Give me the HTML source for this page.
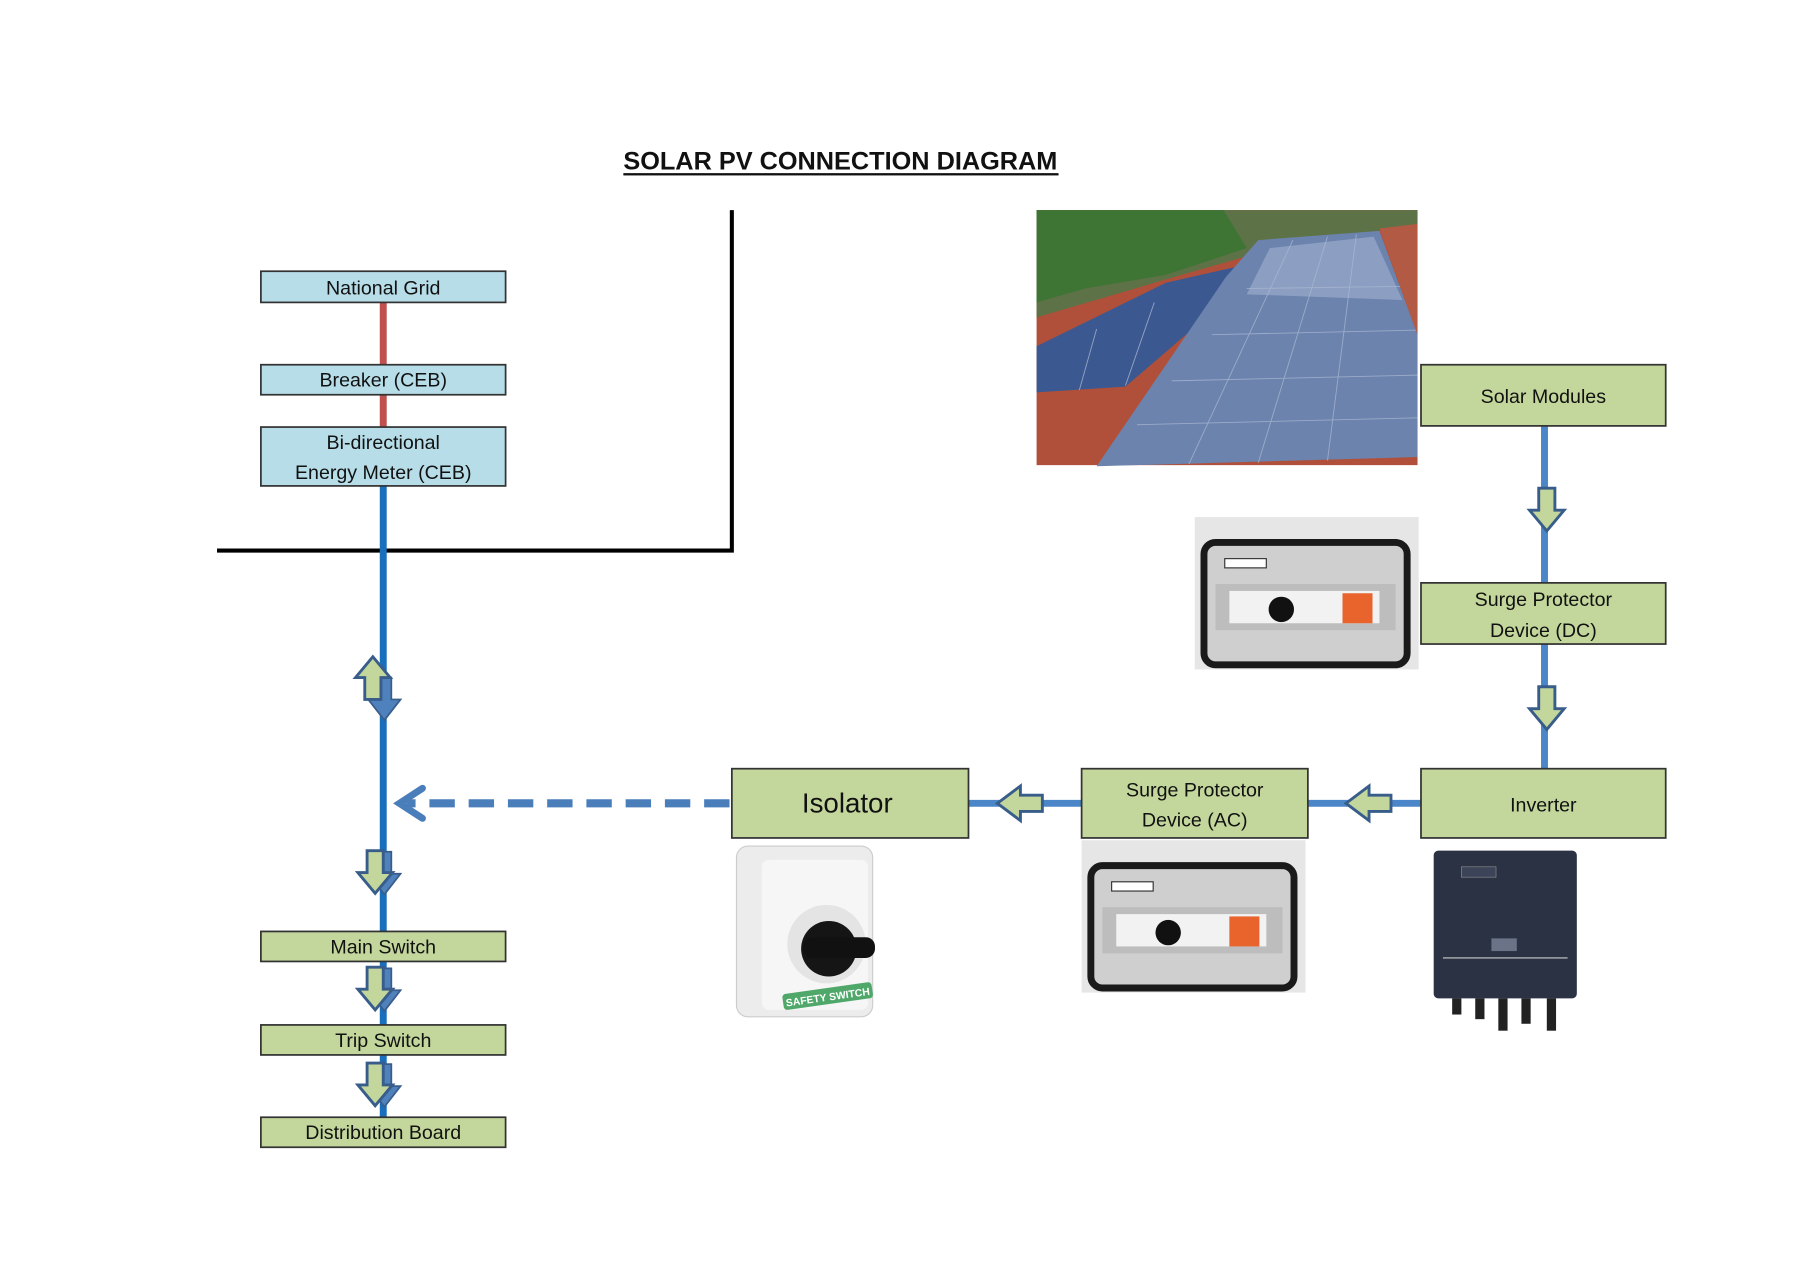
<!DOCTYPE html>
<html><head><meta charset="utf-8"><style>
html,body{margin:0;padding:0;background:#fff;}
svg{display:block;}
text{font-family:"Liberation Sans",sans-serif;fill:#111;}
</style></head><body>
<svg width="1810" height="1280" viewBox="0 0 1568 1109" preserveAspectRatio="none" xmlns="http://www.w3.org/2000/svg">
<defs>
<g id="dn"><path d="M-7,-19 H7 V0 H15 L0,18 L-15,0 H-7 Z" fill="#c3d69b" stroke="#385d8a" stroke-width="2.5"/></g>
<g id="dnf"><path d="M-6,-19 H6 V0 H14 L0,18 L-14,0 H-6 Z" fill="#4f81bd" stroke="#385d8a" stroke-width="1.5"/></g>
<g id="lf"><path d="M21,-7 V7 H2 V15 L-18,0 L2,-15 V-7 Z" fill="#c3d69b" stroke="#385d8a" stroke-width="2.5"/></g>
<g id="spd">
<rect x="0" y="0" width="194" height="132" fill="#e6e6e6"/>
<rect x="8" y="22" width="176" height="106" rx="10" fill="#cfcfcf" stroke="#1a1a1a" stroke-width="6"/>
<rect x="26" y="36" width="36" height="8" fill="#fff" stroke="#333" stroke-width="1"/>
<rect x="18" y="58" width="156" height="40" fill="#bdbdbd"/>
<rect x="30" y="64" width="130" height="28" fill="#f2f2f2"/>
<circle cx="75" cy="80" r="11" fill="#111"/>
<rect x="128" y="66" width="26" height="26" fill="#e8642c"/>
</g>
</defs>

<text x="728" y="147" font-size="22" font-weight="bold" text-anchor="middle" textLength="376" lengthAdjust="spacingAndGlyphs">SOLAR PV CONNECTION DIAGRAM</text>
<rect x="540" y="150" width="377" height="2" fill="#111"/>

<path d="M634,182 V477 H188" fill="none" stroke="#000" stroke-width="3.5"/>

<line x1="332" y1="262" x2="332" y2="370" stroke="#c0504d" stroke-width="6"/>
<line x1="332" y1="421" x2="332" y2="968" stroke="#1a6fbd" stroke-width="6"/>

<g stroke="#333" stroke-width="1.5">
<rect x="226" y="235" width="212" height="27" fill="#b7dde8"/>
<rect x="226" y="316" width="212" height="26" fill="#b7dde8"/>
<rect x="226" y="370" width="212" height="51" fill="#b7dde8"/>
<rect x="226" y="807" width="212" height="26" fill="#c3d69b"/>
<rect x="226" y="888" width="212" height="26" fill="#c3d69b"/>
<rect x="226" y="968" width="212" height="26" fill="#c3d69b"/>
</g>
<g font-size="17" text-anchor="middle">
<text x="332" y="255">National Grid</text>
<text x="332" y="335">Breaker (CEB)</text>
<text x="332" y="389">Bi-directional</text>
<text x="332" y="415">Energy Meter (CEB)</text>
<text x="332" y="826">Main Switch</text>
<text x="332" y="907">Trip Switch</text>
<text x="332" y="987">Distribution Board</text>
</g>

<use href="#dnf" x="333" y="606"/>
<g transform="translate(323,587) rotate(180)"><use href="#dn"/></g>
<use href="#dnf" x="333" y="757"/>
<use href="#dn" x="325" y="756"/>
<use href="#dnf" x="333" y="858"/>
<use href="#dn" x="325" y="857"/>
<use href="#dnf" x="333" y="941"/>
<use href="#dn" x="325" y="940"/>

<line x1="632" y1="696" x2="352" y2="696" stroke="#4a7ebb" stroke-width="7" stroke-dasharray="22,12"/>
<path d="M366,683 L346,696 L366,709" fill="none" stroke="#4a7ebb" stroke-width="6" stroke-linecap="round"/>

<line x1="1338" y1="369" x2="1338" y2="666" stroke="#4a86c8" stroke-width="6"/>
<line x1="839" y1="696" x2="1231" y2="696" stroke="#4a86c8" stroke-width="6"/>
<use href="#dn" x="1340" y="442"/>
<use href="#dn" x="1340" y="614"/>
<use href="#lf" x="882" y="696"/>
<use href="#lf" x="1184" y="696"/>

<g stroke="#333" stroke-width="1.5" fill="#c3d69b">
<rect x="634" y="666" width="205" height="60"/>
<rect x="937" y="666" width="196" height="60"/>
<rect x="1231" y="666" width="212" height="60"/>
<rect x="1231" y="316" width="212" height="53"/>
<rect x="1231" y="505" width="212" height="53"/>
</g>
<g font-size="17" text-anchor="middle">
<text x="734" y="704" font-size="24">Isolator</text>
<text x="1035" y="690">Surge Protector</text>
<text x="1035" y="716">Device (AC)</text>
<text x="1337" y="703">Inverter</text>
<text x="1337" y="349">Solar Modules</text>
<text x="1337" y="525">Surge Protector</text>
<text x="1337" y="552">Device (DC)</text>
</g>

<!-- solar photo -->
<g>
<rect x="898" y="182" width="330" height="221" fill="#b0503a"/>
<polygon points="898,182 1228,182 1228,196 1195,200 1080,222 1000,245 898,275" fill="#5d7246"/>
<polygon points="898,182 1060,182 1080,215 1010,238 940,250 898,262" fill="#3e7434"/>
<polygon points="898,300 1010,245 1085,228 1090,236 975,335 898,340" fill="#3c5890"/>
<polygon points="1090,208 1195,200 1228,290 1228,396 950,404 1062,240" fill="#6b83ad"/>
<polygon points="1100,215 1190,205 1215,260 1080,255" fill="#8c9fc2"/>
<g stroke="#a8b6d0" stroke-width="0.8" opacity="0.8">
<line x1="1080" y1="250" x2="1225" y2="248"/>
<line x1="1050" y1="290" x2="1228" y2="286"/>
<line x1="1015" y1="330" x2="1228" y2="325"/>
<line x1="985" y1="368" x2="1228" y2="362"/>
<line x1="1120" y1="208" x2="1030" y2="402"/>
<line x1="1150" y1="205" x2="1090" y2="401"/>
<line x1="1175" y1="203" x2="1150" y2="399"/>
<line x1="950" y1="285" x2="935" y2="338"/>
<line x1="1000" y1="262" x2="975" y2="334"/>
</g>
<polygon points="1195,198 1228,194 1228,290" fill="#b35a45"/>
</g>

<use href="#spd" x="1035" y="448"/>
<use href="#spd" x="937" y="728"/>

<g>
<rect x="638" y="733" width="118" height="148" rx="10" fill="#ececec" stroke="#ccc"/>
<rect x="660" y="745" width="92" height="130" rx="6" fill="#f6f6f6"/>
<circle cx="716" cy="818" r="34" fill="#e4e4e4"/>
<circle cx="718" cy="822" r="24" fill="#151515"/>
<rect x="696" y="812" width="62" height="18" rx="8" fill="#111"/>
<rect x="678" y="856" width="78" height="14" rx="3" fill="#4fa86a" transform="rotate(-8 717 863)"/>
<text x="717" y="867" font-size="9" font-weight="bold" text-anchor="middle" transform="rotate(-8 717 863)" style="fill:#fff">SAFETY SWITCH</text>
</g>

<g>
<rect x="1242" y="737" width="124" height="128" rx="4" fill="#2b3244"/>
<rect x="1266" y="751" width="30" height="9" fill="#3b4458" stroke="#888" stroke-width="0.6"/>
<rect x="1292" y="813" width="22" height="11" fill="#6a7388"/>
<line x1="1250" y1="830" x2="1358" y2="830" stroke="#ccc" stroke-width="1"/>
<rect x="1258" y="865" width="8" height="14" fill="#222"/>
<rect x="1278" y="865" width="8" height="18" fill="#222"/>
<rect x="1298" y="865" width="8" height="28" fill="#222"/>
<rect x="1318" y="865" width="8" height="22" fill="#222"/>
<rect x="1340" y="865" width="8" height="28" fill="#222"/>
</g>
</svg>
</body></html>
